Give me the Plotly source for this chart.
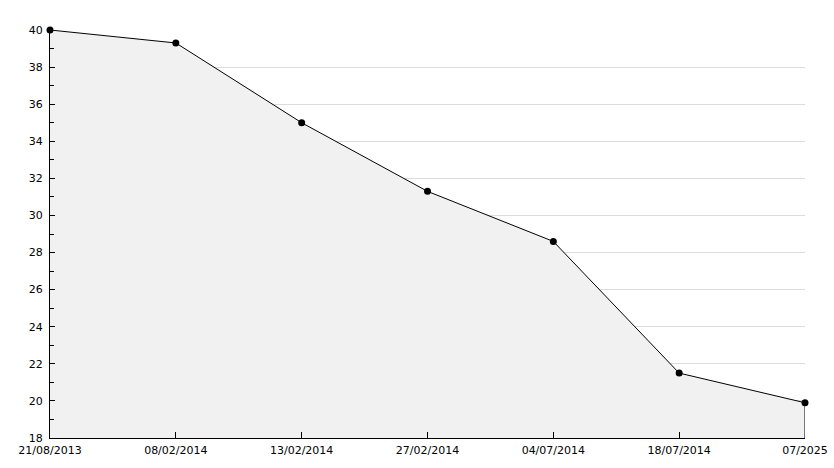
import plotly.graph_objects as go

dates = ["21/08/2013", "08/02/2014", "13/02/2014", "27/02/2014", "04/07/2014", "18/07/2014", "07/2025"]
values = [40.0, 39.3, 35.0, 31.3, 28.6, 21.5, 19.9]
y_min, y_max = 18, 40

fig = go.Figure()
fig.add_trace(go.Scatter(
    x=dates, y=values, mode="lines+markers",
    fill="tozeroy", fillcolor="#f1f1f1",
    line=dict(color="black", width=1),
    marker=dict(color="black", size=7, symbol="circle"),
    showlegend=False, hoverinfo="x+y", cliponaxis=False,
))
fig.add_trace(go.Scatter(
    x=[dates[-1], dates[-1]], y=[values[-1], y_min], mode="lines",
    line=dict(color="black", width=1), showlegend=False, hoverinfo="skip",
    cliponaxis=False,
))

font = dict(family="DejaVu Sans", size=11, color="black")
fig.update_layout(
    width=834, height=468,
    margin=dict(l=50, r=29, t=30, b=30),
    paper_bgcolor="white", plot_bgcolor="white",
    font=font,
    xaxis=dict(
        type="category", range=[0, len(dates) - 1], automargin=False,
        showgrid=False, showline=True, linecolor="black", linewidth=1,
        ticks="inside", ticklen=6, tickcolor="black",
        tickfont=font, zeroline=False, ticklabelstandoff=2,
    ),
    yaxis=dict(
        range=[y_min, y_max], dtick=2, tick0=18, automargin=False,
        showgrid=True, gridcolor="#dcdcdc", gridwidth=1,
        showline=True, linecolor="black", linewidth=1,
        ticks="inside", ticklen=5, tickcolor="black",
        minor=dict(dtick=1, tick0=18, ticks="inside", ticklen=4, tickcolor="black", showgrid=False),
        tickfont=font, zeroline=False, ticklabelstandoff=4,
    ),
)
fig.write_html(
    "out.html",
    config={"displayModeBar": False},
    post_script="document.body.style.margin='0';document.body.style.overflow='hidden';",
)
